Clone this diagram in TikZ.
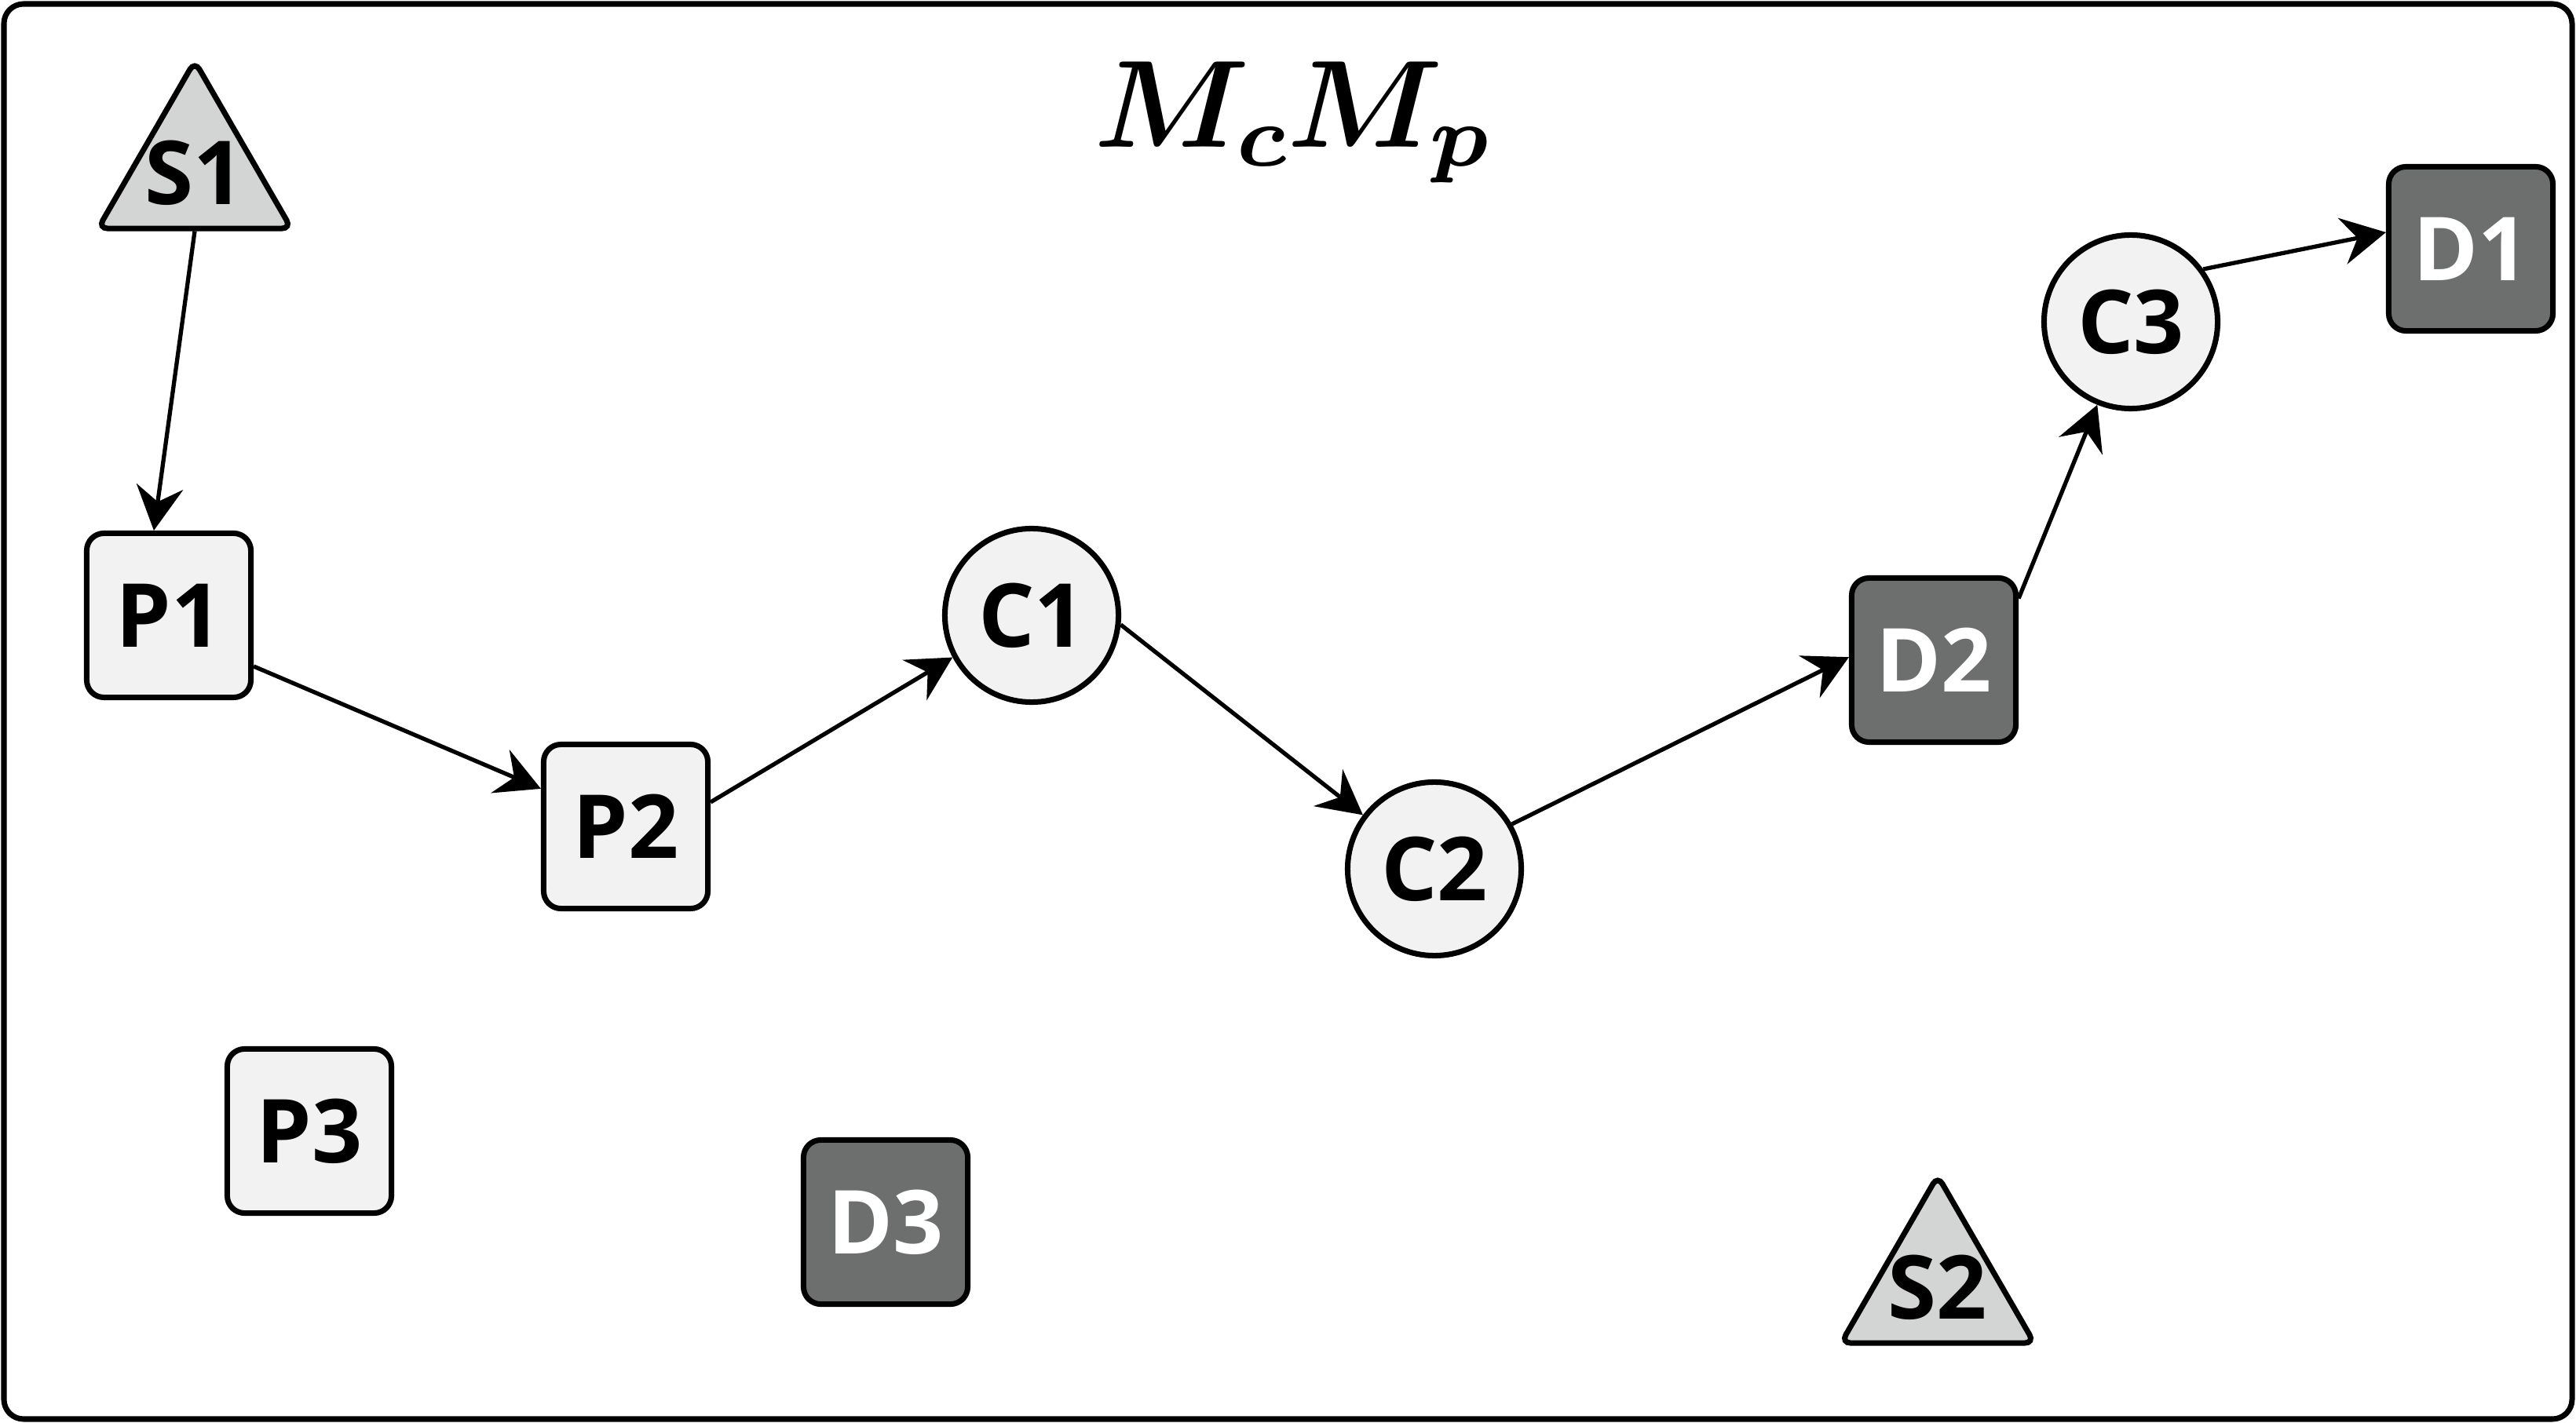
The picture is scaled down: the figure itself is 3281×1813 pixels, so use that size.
\documentclass[tikz,border=0pt]{standalone}
\usepackage{fontspec}
\setmainfont{Open Sans}
\usetikzlibrary{arrows.meta,shapes.geometric}
\definecolor{lightfill}{HTML}{F2F2F2}
\definecolor{srcfill}{HTML}{D3D5D5}
\definecolor{darkfill}{HTML}{6D6E6E}
\font\headmib=cmmib10 at 45pt
\font\headmibs=cmmib7 at 31.5pt
\newcommand{\lblfont}{\fontsize{32}{38}\selectfont\bfseries}
\newcommand{\headtext}{\hbox{\headmib M\lower6.7pt\hbox{\headmibs c}\headmib M\lower6.7pt\hbox{\headmibs p}}}
\tikzset{
  lbl/.style={font=\lblfont},
  pbox/.style={draw, line width=2pt, rounded corners=0.22cm, minimum size=2.09cm, inner sep=0pt, fill=lightfill, lbl},
  dbox/.style={pbox, fill=darkfill, text=white},
  cnode/.style={circle, draw, line width=2pt, minimum size=2.21cm, inner sep=0pt, fill=lightfill, lbl},
  snode/.style={regular polygon, regular polygon sides=3, draw, line width=2pt, minimum size=2.84cm, inner sep=0pt, rounded corners=0.12cm, fill=srcfill},
  conn/.style={line width=1.5pt, -{Stealth[length=16pt,width=17pt,inset=5.5pt]}},
  outerframe/.style={draw, line width=2pt, rounded corners=0.25cm},
  headstyle/.style={inner sep=0pt}
}
\begin{document}
\begin{tikzpicture}[x=0.01cm, y=-0.01cm]
\useasboundingbox (0,0) rectangle (3281,1813);
\draw[outerframe] (5,5) rectangle (3276,1808);
\node[snode, label={[lbl]center:S1}] (S1) at (248,220) {};
\node[snode, label={[lbl]center:S2}] (S2) at (2468,1640) {};
\node[pbox] (P1) at (215,784) {P1};
\node[pbox] (P2) at (797,1053) {P2};
\node[pbox] (P3) at (394,1441) {P3};
\node[cnode] (C1) at (1314,784) {C1};
\node[cnode] (C2) at (1827,1107) {C2};
\node[cnode] (C3) at (2714,410) {C3};
\node[dbox] (D1) at (3147,317) {D1};
\node[dbox] (D2) at (2463,841) {D2};
\node[dbox] (D3) at (1128,1557) {D3};
\node[headstyle] (heading) at (1645,156) {\headtext};
\draw[conn] (S1.south) -- (P1.100);
\draw[conn] (P1.-31) -- (P2.156);
\draw[conn] (P2.16) -- (C1.208);
\draw[conn] (C1.-6) -- (C2.143);
\draw[conn] (C2.30) -- (D2.178);
\draw[conn] (D2.36) -- (C3.248);
\draw[conn] (C3.36) -- (D1.169);
\end{tikzpicture}
\end{document}
